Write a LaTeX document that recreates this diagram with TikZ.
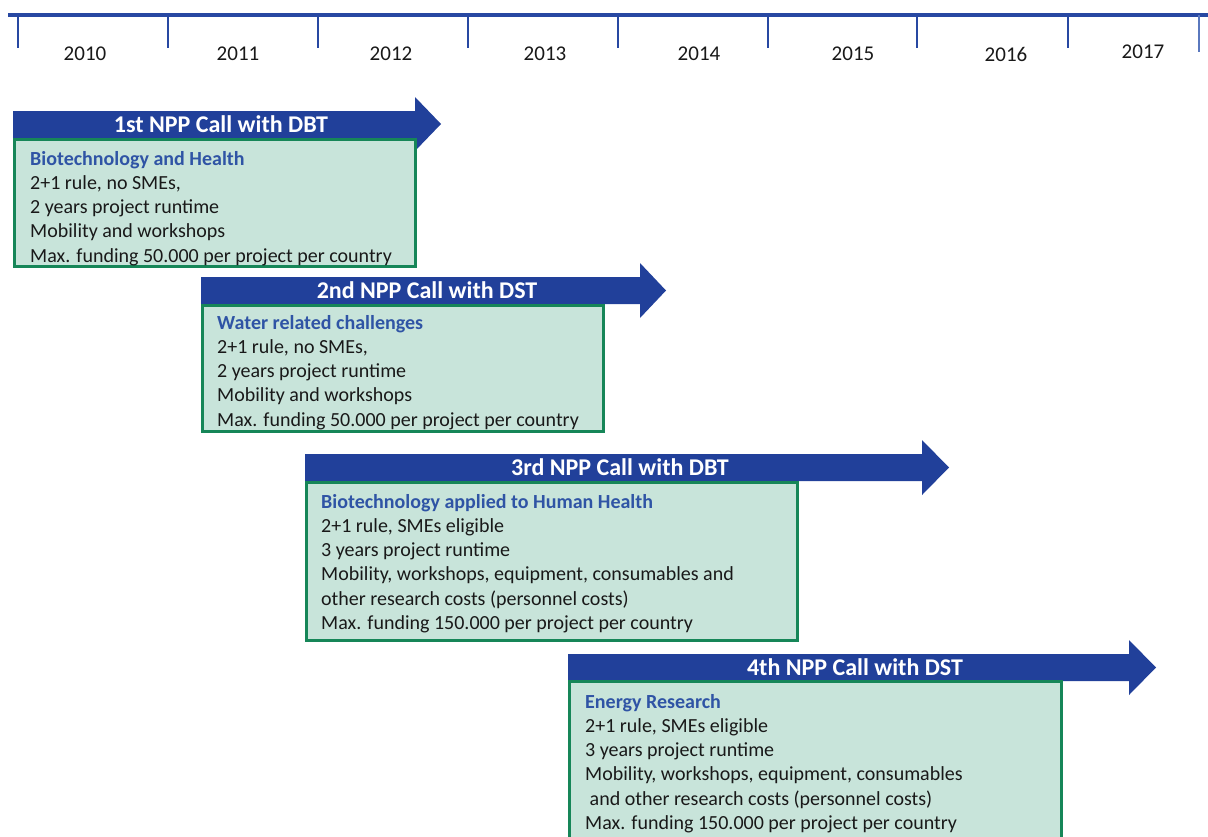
\documentclass[tikz,border=0pt]{standalone}
\usepackage{fontspec}
\setmainfont{Carlito}
\definecolor{callblue}{RGB}{33,64,154}
\definecolor{lineblue}{RGB}{40,72,162}
\definecolor{lighttick}{RGB}{90,120,190}
\definecolor{boxgreen}{RGB}{22,134,88}
\definecolor{boxfill}{RGB}{200,228,218}
\definecolor{headblue}{RGB}{47,84,165}
\definecolor{textblack}{RGB}{25,25,25}
\begin{document}
\begin{tikzpicture}[x=1pt,y=-1pt,
  callarrow/.style={fill=callblue},
  callbox/.style={draw=boxgreen, line width=3pt, fill=boxfill},
  calltitle/.style={text=white, inner sep=0, font=\fontsize{24}{29}\selectfont\bfseries},
  boxtext/.style={anchor=north west, align=left, inner sep=0, text=textblack, font=\fontsize{20}{24.2}\selectfont},
  yearlabel/.style={inner sep=0, text=textblack, font=\fontsize{21}{25}\selectfont},
  yeartick/.style={draw=lineblue, line width=2pt},
  theme/.style={text=headblue, font=\bfseries}
]
\clip (0,0) rectangle (1208,836);
\fill[white] (0,0) rectangle (1208,836);

% timeline
\draw[lineblue, line width=4pt] (8,15) -- (1208,15);
\foreach \tx in {18,168,318,468,618,768,917,1068}
  \draw[yeartick] (\tx,15) -- (\tx,48);
\draw[draw=lighttick, line width=1.5pt] (1199,15) -- (1199,52);
\node[yearlabel] (y2010) at (85,54) {2010};
\node[yearlabel] (y2011) at (238,54) {2011};
\node[yearlabel] (y2012) at (391,54) {2012};
\node[yearlabel] (y2013) at (545,54) {2013};
\node[yearlabel] (y2014) at (699,54) {2014};
\node[yearlabel] (y2015) at (853,54) {2015};
\node[yearlabel] (y2016) at (1006,54) {2016};
\node[yearlabel] (y2017) at (1143,52) {2017};

% call 1
\fill[callarrow] (13,111) -- (415,111) -- (415,97) -- (441,124) -- (415,151) -- (415,138) -- (13,138) -- cycle;
\node[calltitle] (t1) at (221,124.5) {1st NPP Call with DBT};
\draw[callbox] (14.5,139.5) rectangle (415.5,266.5);
\node[boxtext] (b1) at (30,151) {{\color{headblue}\bfseries Biotechnology and Health}\\
2+1 rule, no SMEs,\\
2 years project runtime\\
Mobility and workshops\\
Max. funding 50.000 per project per country};

% call 2
\fill[callarrow] (201,277) -- (640,277) -- (640,263) -- (666,290.5) -- (640,318) -- (640,304) -- (201,304) -- cycle;
\node[calltitle] (t2) at (427,290.5) {2nd NPP Call with DST};
\draw[callbox] (202.5,305.5) rectangle (603.5,431.5);
\node[boxtext] (b2) at (217,315) {{\color{headblue}\bfseries Water related challenges}\\
2+1 rule, no SMEs,\\
2 years project runtime\\
Mobility and workshops\\
Max. funding 50.000 per project per country};

% call 3
\fill[callarrow] (305,454) -- (922,454) -- (922,440) -- (949,467.5) -- (922,495) -- (922,481) -- (305,481) -- cycle;
\node[calltitle] (t3) at (620,467.5) {3rd NPP Call with DBT};
\draw[callbox] (306.5,482.5) rectangle (797.5,640.5);
\node[boxtext] (b3) at (321,494) {{\color{headblue}\bfseries Biotechnology applied to Human Health}\\
2+1 rule, SMEs eligible\\
3 years project runtime\\
Mobility, workshops, equipment, consumables and\\
other research costs (personnel costs)\\
Max. funding 150.000 per project per country};

% call 4
\fill[callarrow] (568,654) -- (1129,654) -- (1129,640) -- (1156,667.5) -- (1129,695) -- (1129,681) -- (568,681) -- cycle;
\node[calltitle] (t4) at (855,667.5) {4th NPP Call with DST};
\draw[callbox] (569.5,681.5) rectangle (1061.5,850);
\node[boxtext] (b4) at (585,694) {{\color{headblue}\bfseries Energy Research}\\
2+1 rule, SMEs eligible\\
3 years project runtime\\
Mobility, workshops, equipment, consumables\\
\ and other research costs (personnel costs)\\
Max. funding 150.000 per project per country};
\end{tikzpicture}
\end{document}
